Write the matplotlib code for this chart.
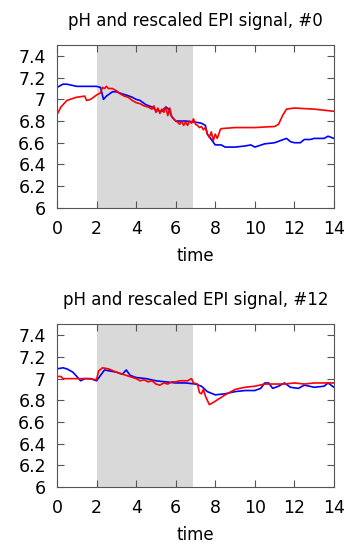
import matplotlib
matplotlib.use("Agg")
import matplotlib.pyplot as plt

# panel #0
t0_blue = [0, 0.3, 0.5, 1.0, 1.5, 2.0, 2.2, 2.35, 2.5, 2.8, 3.0, 3.3, 3.5, 3.8, 4.0, 4.2,
           4.5, 4.8, 5.0, 5.3, 5.5, 5.65, 5.8, 6.0, 6.5, 7.0, 7.3, 7.5, 7.6, 7.8, 8.0,
           8.3, 8.5, 8.8, 9.0, 9.5, 9.8, 10.0, 10.5, 11.0, 11.3, 11.6, 11.8, 12.0, 12.3,
           12.5, 12.8, 13.0, 13.5, 13.7, 14.0]
ph0_blue = [7.11, 7.14, 7.14, 7.12, 7.12, 7.12, 7.11, 7.0, 7.03, 7.07, 7.07, 7.05, 7.04, 7.02,
            7.0, 6.99, 6.95, 6.93, 6.9, 6.89, 6.93, 6.91, 6.84, 6.8, 6.8, 6.79, 6.78, 6.76,
            6.68, 6.63, 6.58, 6.58, 6.56, 6.56, 6.56, 6.57, 6.58, 6.56, 6.59, 6.6, 6.62,
            6.64, 6.61, 6.6, 6.6, 6.63, 6.63, 6.64, 6.64, 6.66, 6.64]

t0_red = [0, 0.2, 0.5, 1.0, 1.4, 1.5, 1.7, 2.0, 2.2, 2.3, 2.4, 2.5, 2.6, 2.8, 3.0, 3.2,
          3.4, 3.6, 3.8, 4.0, 4.2, 4.4, 4.6, 4.8, 4.9, 5.0, 5.1, 5.2, 5.3, 5.4, 5.5,
          5.6, 5.7, 5.8, 5.9, 6.0, 6.1, 6.2, 6.3, 6.4, 6.5, 6.6, 6.7, 6.8, 6.9, 7.0,
          7.1, 7.2, 7.3, 7.4, 7.5, 7.6, 7.7, 7.8, 7.9, 8.0, 8.1, 8.2, 8.25, 8.3, 9.0,
          10.0, 11.0, 11.2, 11.4, 11.6, 12.0, 13.0, 14.0]
ph0_red = [6.86, 6.93, 6.99, 7.02, 7.03, 6.99, 7.0, 7.04, 7.06, 7.11, 7.1, 7.12, 7.1, 7.1,
           7.08, 7.05, 7.03, 7.02, 6.99, 6.97, 6.96, 6.94, 6.93, 6.91, 6.94, 6.88, 6.92,
           6.87, 6.91, 6.88, 6.93, 6.85, 6.92, 6.84, 6.82, 6.8, 6.79, 6.77, 6.8, 6.76,
           6.79, 6.76, 6.8, 6.78, 6.82, 6.77, 6.76, 6.74, 6.75, 6.72, 6.74, 6.68, 6.65,
           6.7, 6.62, 6.68, 6.64, 6.69, 6.72, 6.73, 6.74, 6.74, 6.75, 6.77, 6.85, 6.91,
           6.92, 6.91, 6.89]

# panel #12
t12_blue = [0, 0.3, 0.5, 0.8, 1.0, 1.2, 1.4, 1.7, 2.0, 2.2, 2.4, 2.7, 3.0, 3.3, 3.5, 3.7,
            4.0, 4.5, 5.0, 5.5, 6.0, 6.5, 7.0, 7.3, 7.6, 8.0, 8.5, 9.0, 9.5, 10.0, 10.3,
            10.5, 10.7, 10.9, 11.2, 11.5, 11.8, 12.2, 12.5, 13.0, 13.5, 13.7, 14.0]
ph12_blue = [7.09, 7.1, 7.09, 7.06, 7.02, 6.98, 7.0, 7.0, 6.98, 7.03, 7.08, 7.07, 7.06, 7.04,
             7.08, 7.03, 7.01, 7.0, 6.98, 6.97, 6.96, 6.96, 6.95, 6.93, 6.88, 6.85, 6.86,
             6.88, 6.89, 6.89, 6.91, 6.96, 6.96, 6.91, 6.93, 6.96, 6.92, 6.91, 6.94, 6.92,
             6.93, 6.96, 6.92]

t12_red = [0, 0.2, 0.3, 0.5, 1.0, 1.5, 2.0, 2.1, 2.3, 2.6, 3.0, 3.5, 4.0, 4.2, 4.4, 4.6,
           4.8, 5.0, 5.2, 5.4, 5.6, 5.8, 6.0, 6.2, 6.4, 6.6, 6.8, 6.9, 7.1, 7.2, 7.3,
           7.4, 7.5, 7.7, 7.9, 8.5, 9.0, 9.5, 10.0, 10.5, 11.0, 11.5, 12.0, 12.5, 13.0, 14.0]
ph12_red = [7.02, 7.02, 7.0, 7.0, 7.0, 7.0, 6.99, 7.07, 7.1, 7.09, 7.06, 7.03, 7.0, 6.98,
            6.99, 6.97, 6.98, 6.95, 6.94, 6.96, 6.95, 6.97, 6.97, 6.98, 6.98, 6.98, 7.0,
            6.96, 6.95, 6.87, 6.86, 6.9, 6.84, 6.76, 6.78, 6.85, 6.9, 6.92, 6.93, 6.95,
            6.95, 6.95, 6.96, 6.95, 6.96, 6.96]

stim_start, stim_end = 2.0, 6.9
xticks = [0, 2, 4, 6, 8, 10, 12, 14]
yticks = [6, 6.2, 6.4, 6.6, 6.8, 7, 7.2, 7.4]
ytick_labels = ["6", "6.2", "6.4", "6.6", "6.8", "7", "7.2", "7.4"]

panels = [
    ("pH and rescaled EPI signal, #0", t0_blue, ph0_blue, t0_red, ph0_red),
    ("pH and rescaled EPI signal, #12", t12_blue, ph12_blue, t12_red, ph12_red),
]

fig = plt.figure(figsize=(3.63, 5.44), dpi=100)
boxes = [[0.157, 0.618, 0.763, 0.299], [0.157, 0.105, 0.763, 0.2985]]

for box, (title, tb, yb, tr, yr) in zip(boxes, panels):
    ax = fig.add_axes(box)
    ax.axvspan(stim_start, stim_end, color="#d9d9d9", lw=0, zorder=0)
    ax.plot(tb, yb, color="#0000ff", lw=1.2)
    ax.plot(tr, yr, color="#ff0000", lw=1.2)
    ax.set_xlim(0, 14)
    ax.set_ylim(6, 7.5)
    ax.set_xticks(xticks)
    ax.set_yticks(yticks)
    ax.set_yticklabels(ytick_labels)
    ax.tick_params(direction="in", top=True, right=True, length=5, width=0.8,
                   color="#555555", labelsize=12.5)
    ax.tick_params(axis="x", pad=9)
    ax.tick_params(axis="y", pad=8)
    for s in ax.spines.values():
        s.set_color("#555555")
        s.set_linewidth(0.8)
    ax.set_xlabel("time", fontsize=12, labelpad=6)
    ax.set_title(title, fontsize=12, pad=14)

fig.savefig("out.png", dpi=100)
